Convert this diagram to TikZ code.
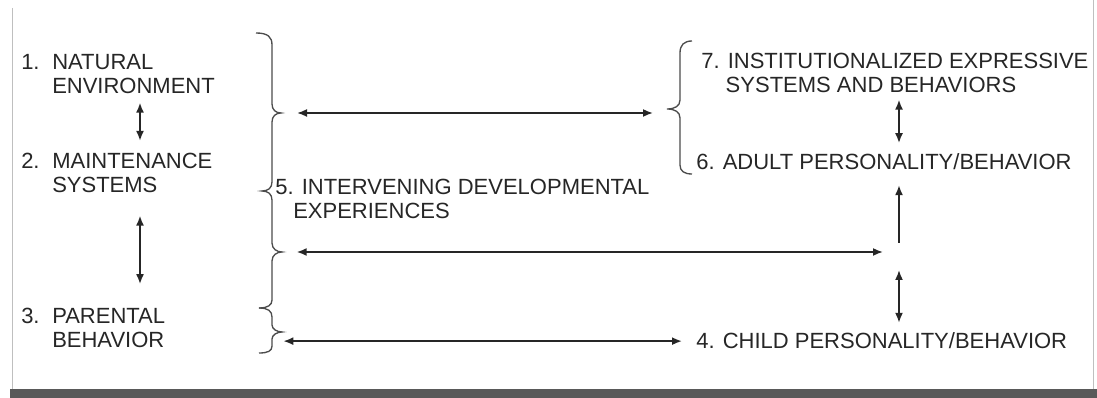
\documentclass[tikz,border=0pt]{standalone}
\usepackage{fontspec}
\setmainfont{Liberation Sans}
\usetikzlibrary{arrows.meta}

\tikzset{
  lbl/.style={font=\fontsize{16.5}{18}\selectfont, text=black!85, inner sep=0pt, anchor=base west, align=left},
  twoway/.style={{Latex[length=7.5pt,width=6pt]}-{Latex[length=7.5pt,width=6pt]}, line width=1.3pt, draw=black!85},
  oneway/.style={-{Latex[length=7.5pt,width=6pt]}, line width=1.3pt, draw=black!85},
  brc/.style={line width=1pt, draw=black!70},
}

\begin{document}
\begin{tikzpicture}[x=0.75pt,y=0.75pt,yscale=-1,xscale=1]
	\useasboundingbox (0,0) rectangle (1097,398);
	
	%Shape: Frame
	\draw [black!25] (12,8) -- (12,389) ;
	\draw [black!25] (1093,0) -- (1093,389) ;
	\fill [black!65] (10,389) rectangle (1097,398) ;
	
	% Text Node (multi-line nodes sit on their last baseline)
	\node [lbl] (num1) at (21,69.5) {1.};
	\node [lbl] (n1) at (52,93.5) {NATURAL\\ENVIRONMENT};
	% Text Node
	\node [lbl] (num2) at (21,168.5) {2.};
	\node [lbl] (n2) at (52,192.5) {MAINTENANCE\\SYSTEMS};
	% Text Node
	\node [lbl] (num3) at (21,323.5) {3.};
	\node [lbl] (n3) at (52,347.5) {PARENTAL\\BEHAVIOR};
	% Text Node
	\node [lbl] (n4) at (696,349) {4. CHILD PERSONALITY/BEHAVIOR};
	% Text Node
	\node [lbl] (n5) at (275,219) {5. INTERVENING DEVELOPMENTAL\\\hspace*{13.5pt}EXPERIENCES};
	% Text Node
	\node [lbl] (n6) at (696,170) {6. ADULT PERSONALITY/BEHAVIOR};
	% Text Node
	\node [lbl] (n7) at (701,92.5) {7. INSTITUTIONALIZED EXPRESSIVE\\\phantom{7.\ }SYSTEMS AND BEHAVIORS};
	
	%Shape: Brace (left, with three tips)
	\draw [brc] (256,33) .. controls (268,33) and (272,37) .. (272,45) -- (272,104)
		.. controls (272,110) and (276,113) .. (281,113) .. controls (276,113) and (272,116) .. (272,122)
		-- (272,182) .. controls (272,188) and (268,191) .. (262,191) .. controls (268,191) and (272,194) .. (272,200)
		-- (272,243) .. controls (272,249) and (277,252) .. (282,252) .. controls (277,252) and (272,255) .. (272,261)
		-- (272,300) .. controls (272,305) and (268,308) .. (259,308) ;
	%Shape: Brace (parental)
	\draw [brc] (259,308) .. controls (268,308) and (272,311) .. (272,317) -- (272,325)
		.. controls (272,329) and (277,332) .. (282,332) .. controls (277,332) and (272,335) .. (272,339)
		-- (272,346) .. controls (272,351) and (268,353) .. (259,353) ;
	%Shape: Brace (right)
	\draw [brc] (692,41) .. controls (684,41) and (680,45) .. (680,53) -- (680,100)
		.. controls (680,106) and (675,109) .. (667,109) .. controls (675,109) and (680,112) .. (680,118)
		-- (680,165) .. controls (680,171) and (684,174) .. (692,174) ;
	
	% Brace tips and junctions
	\coordinate (tipTop) at (281,113);
	\coordinate (tipMid) at (282,252);
	\coordinate (tipPar) at (282,332);
	\coordinate (tipInst) at (667,113);
	\coordinate (hub) at (899,252);
	\coordinate (colL) at (140,0);
	
	%Straight Lines
	\draw [twoway, shorten <=12pt, shorten >=10.5pt] (tipTop) -- (tipInst) ;
	\draw [twoway, shorten <=11pt, shorten >=12pt] (tipMid) -- (hub) ;
	\draw [twoway, shorten <=10.5pt, shorten >=1pt] (n4.west) -- (n4.west -| tipPar) ;
	
	%Straight Lines
	\draw [twoway, shorten <=6.5pt, shorten >=9pt] (n1.south -| colL) -- (n2.north -| colL) ;
	\draw [twoway, shorten <=17pt, shorten >=18pt] (n2.south -| colL) -- (n3.north -| colL) ;
	\draw [twoway, shorten <=5pt, shorten >=8pt] (n7.south -| hub) -- (n6.north -| hub) ;
	\draw [oneway, shorten <=7pt, shorten >=11pt] (hub) -- (n6.south -| hub) ;
	\draw [twoway, shorten <=13.5pt, shorten >=7.5pt] (hub) -- (n4.north -| hub) ;
	
\end{tikzpicture}
\end{document}
